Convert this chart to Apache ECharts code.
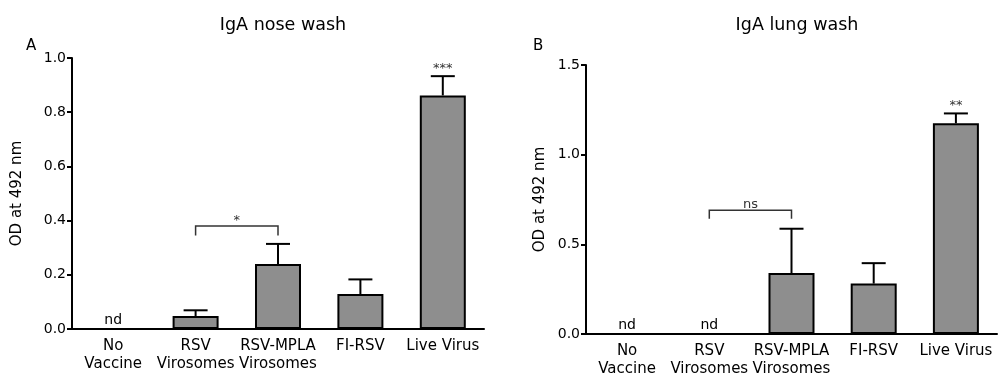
<!DOCTYPE html>
<html>
<head>
<meta charset="utf-8">
<script src="https://cdn.jsdelivr.net/npm/echarts@6/dist/echarts.min.js"></script>
<style>
  html, body { margin: 0; padding: 0; background: #fff; }
  #chart { width: 999px; height: 378px; }
</style>
</head>
<body>
<div id="chart"></div>
<script>
// Vaccine groups shared by both panels
const categories = ['No\nVaccine', 'RSV\nVirosomes', 'RSV-MPLA\nVirosomes', 'FI-RSV', 'Live Virus'];

// Panel A: IgA in nose wash (mean OD and SEM)
const noseMean = [null, 0.048, 0.24, 0.129, 0.862];
const noseSem = [null, 0.021, 0.074, 0.054, 0.071];
const noseStars = ['', '', '', '', '***'];
const noseNotDetected = [0];
const noseBracket = [1, 2, 0.38, '*'];     // from group, to group, level, label
const noseTicks = [0, 0.2, 0.4, 0.6, 0.8, 1.0];

// Panel B: IgA in lung wash (mean OD and SEM)
const lungMean = [null, null, 0.34, 0.281, 1.175];
const lungSem = [null, null, 0.247, 0.114, 0.055];
const lungStars = ['', '', '', '', '**'];
const lungNotDetected = [0, 1];
const lungBracket = [1, 2, 0.69, 'ns'];
const lungTicks = [0, 0.5, 1.0, 1.5];

const FONT = 'DejaVu Sans';
const BAR_FILL = '#8e8e8e';
const INK = '#000';

function errorData(mean, sem, stars) {
  return mean.map((m, i) => m == null ? null : [i, m, sem[i], stars[i]]).filter(d => d);
}

function errorSeries(idx, mean, sem, stars) {
  return {
    type: 'custom',
    xAxisIndex: idx, yAxisIndex: idx,
    data: errorData(mean, sem, stars),
    z: 3,
    renderItem: function (params, api) {
      const base = api.coord([api.value(0), api.value(1)]);
      const top = api.coord([api.value(0), api.value(1) + api.value(2)]);
      const star = api.value(3);
      const children = [
        { type: 'line', shape: { x1: base[0], y1: base[1], x2: top[0], y2: top[1] },
          style: { stroke: INK, lineWidth: 2 } },
        { type: 'line', shape: { x1: top[0] - 12, y1: top[1], x2: top[0] + 12, y2: top[1] },
          style: { stroke: INK, lineWidth: 2 } }
      ];
      if (star) {
        children.push({ type: 'text', x: top[0], y: top[1] - 1,
          style: { text: star, font: '13px ' + FONT, fill: '#333', align: 'center', verticalAlign: 'bottom' } });
      }
      return { type: 'group', children: children };
    }
  };
}

function ndSeries(idx, list) {
  return {
    type: 'custom',
    xAxisIndex: idx, yAxisIndex: idx,
    data: list.map(i => [i, 0]),
    z: 4,
    renderItem: function (params, api) {
      const p = api.coord([api.value(0), api.value(1)]);
      return { type: 'text', x: p[0], y: p[1] - 2,
        style: { text: 'nd', font: '14px ' + FONT, fill: INK, align: 'center', verticalAlign: 'bottom' } };
    }
  };
}

function bracketSeries(idx, br, drop) {
  return {
    type: 'custom',
    xAxisIndex: idx, yAxisIndex: idx,
    data: [[br[0], br[1], br[2], br[2] - drop]],
    z: 4,
    renderItem: function (params, api) {
      const a = api.coord([api.value(0), api.value(2)]);
      const b = api.coord([api.value(1), api.value(2)]);
      const aLow = api.coord([api.value(0), api.value(3)]);
      const bLow = api.coord([api.value(1), api.value(3)]);
      return { type: 'group', children: [
        { type: 'polyline', shape: { points: [aLow, a, b, bLow] },
          style: { stroke: '#333', lineWidth: 1.5, fill: null } },
        { type: 'text', x: (a[0] + b[0]) / 2, y: a[1] + 1,
          style: { text: br[3], font: '13px ' + FONT, fill: '#333', align: 'center', verticalAlign: 'bottom' } }
      ] };
    }
  };
}

function xAxisFor(idx) {
  return {
    type: 'category', gridIndex: idx, data: categories,
    axisLine: { lineStyle: { color: INK, width: 2 } },
    axisTick: { alignWithLabel: true, length: 5, lineStyle: { color: INK, width: 2 } },
    axisLabel: { color: INK, fontFamily: FONT, fontSize: 15, lineHeight: 18, margin: 8, interval: 0 },
    splitLine: { show: false }
  };
}

function yAxisFor(idx, ticks, gap) {
  return {
    type: 'value', gridIndex: idx,
    min: ticks[0], max: ticks[ticks.length - 1], interval: ticks[1] - ticks[0],
    name: 'OD at 492 nm', nameLocation: 'middle', nameRotate: 90, nameGap: gap,
    nameTextStyle: { color: INK, fontFamily: FONT, fontSize: 15 },
    axisLine: { show: true, lineStyle: { color: INK, width: 2 } },
    axisTick: { show: true, inside: false, length: 5, lineStyle: { color: INK, width: 2 } },
    axisLabel: { color: INK, fontFamily: FONT, fontSize: 14, margin: 6,
      formatter: v => v.toFixed(1) },
    splitLine: { show: false }
  };
}

function barSeries(idx, mean) {
  return {
    type: 'bar', xAxisIndex: idx, yAxisIndex: idx, data: mean,
    barWidth: 46,
    itemStyle: { color: BAR_FILL, borderColor: INK, borderWidth: 2 },
    z: 2
  };
}

const chart = echarts.init(document.getElementById('chart'), null, { renderer: 'canvas' });
chart.setOption({
  backgroundColor: '#fff',
  animation: false,
  title: [
    { text: 'IgA nose wash', left: 278, top: 11, textAlign: 'center',
      textStyle: { fontFamily: FONT, fontSize: 17.5, fontWeight: 'normal', color: INK } },
    { text: 'IgA lung wash', left: 792, top: 11, textAlign: 'center',
      textStyle: { fontFamily: FONT, fontSize: 17.5, fontWeight: 'normal', color: INK } },
    { text: 'A', left: 21, top: 34,
      textStyle: { fontFamily: FONT, fontSize: 15, fontWeight: 'normal', color: INK } },
    { text: 'B', left: 528, top: 34,
      textStyle: { fontFamily: FONT, fontSize: 15, fontWeight: 'normal', color: INK } }
  ],
  grid: [
    { left: 72, right: 515, top: 58, bottom: 49 },
    { left: 586, right: 2, top: 65, bottom: 41 }
  ],
  xAxis: [xAxisFor(0), xAxisFor(1)],
  yAxis: [yAxisFor(0, noseTicks, 47), yAxisFor(1, lungTicks, 38)],
  series: [
    barSeries(0, noseMean),
    errorSeries(0, noseMean, noseSem, noseStars),
    ndSeries(0, noseNotDetected),
    bracketSeries(0, noseBracket, 0.035),
    barSeries(1, lungMean),
    errorSeries(1, lungMean, lungSem, lungStars),
    ndSeries(1, lungNotDetected),
    bracketSeries(1, lungBracket, 0.047)
  ]
});
</script>
</body>
</html>
